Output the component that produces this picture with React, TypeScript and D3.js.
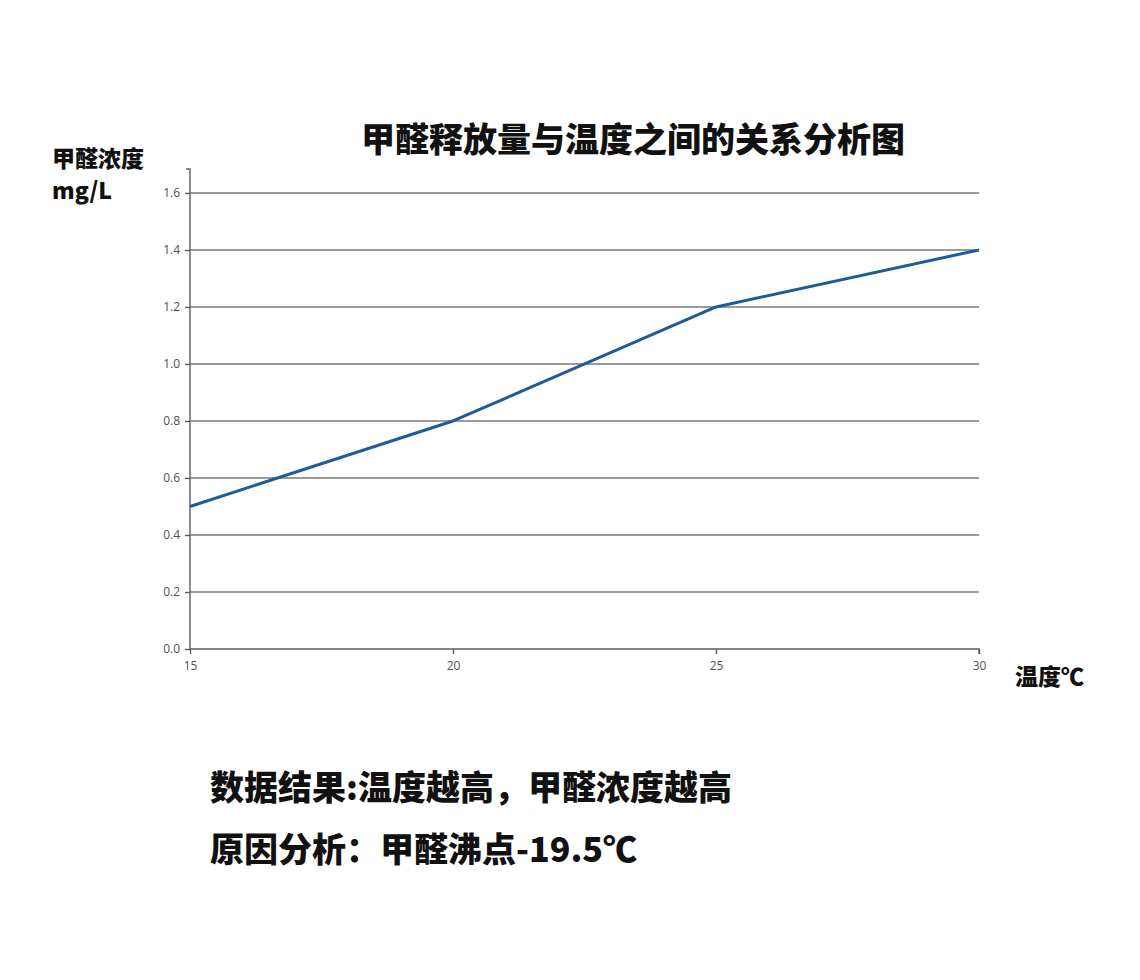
import { useEffect, useRef } from 'react'
import * as d3 from 'd3'

const temps = [15, 20, 25, 30]
const conc = [0.5, 0.8, 1.2, 1.4]
const yTicks = [0, 0.2, 0.4, 0.6, 0.8, 1.0, 1.2, 1.4, 1.6]
const xTicks = [15, 20, 25, 30]

const CJK = '"Noto Sans CJK SC", "Noto Sans", sans-serif'

export default function App() {
  const svgRef = useRef<SVGSVGElement>(null)

  useEffect(() => {
    if (!svgRef.current) return
    const svg = d3.select(svgRef.current)
    svg.selectAll('*').remove()

    const W = 1140, H = 980
    const left = 190, right = 979, top = 169, bottom = 649

    const x = d3.scaleLinear().domain([15, 30]).range([left, right])
    const y = d3.scaleLinear().domain([0, 1.684]).range([bottom, top])

    svg.attr('width', W).attr('height', H)
    svg.append('rect').attr('width', W).attr('height', H).attr('fill', '#fff')

    // grid
    svg.append('g')
      .selectAll('line')
      .data(yTicks.filter(d => d > 0))
      .join('line')
      .attr('x1', left).attr('x2', right)
      .attr('y1', d => y(d)).attr('y2', d => y(d))
      .attr('stroke', '#7a7a7a').attr('stroke-width', 1.4)

    // y axis
    svg.append('g')
      .attr('transform', `translate(${left},0)`)
      .call(d3.axisLeft(y).tickValues(yTicks).tickFormat(d3.format('.1f')).tickSize(5).tickPadding(5))
      .call(sel => {
        sel.select('.domain').attr('stroke', '#5e5e5e').attr('stroke-width', 1.4)
          .attr('d', `M-4,${top}H0V${bottom}`)
        sel.selectAll('.tick line').attr('stroke', '#5e5e5e').attr('stroke-width', 1.4)
        sel.selectAll('text').attr('font-size', 12).attr('fill', '#505050')
          .attr('font-family', '"Open Sans", sans-serif')
      })

    // x axis
    svg.append('g')
      .attr('transform', `translate(0,${bottom})`)
      .call(d3.axisBottom(x).tickValues(xTicks).tickSize(5).tickPadding(7))
      .call(sel => {
        sel.select('.domain').attr('stroke', '#5e5e5e').attr('stroke-width', 1.4)
          .attr('d', `M${left},0H${right}V5`)
        sel.selectAll('.tick line').attr('stroke', '#5e5e5e').attr('stroke-width', 1.4)
        sel.selectAll('text').attr('font-size', 12).attr('fill', '#505050')
          .attr('font-family', '"Open Sans", sans-serif')
      })

    // line
    const line = d3.line<number>()
      .x((_, i) => x(temps[i]))
      .y(d => y(d))
    svg.append('path')
      .datum(conc)
      .attr('d', line)
      .attr('fill', 'none')
      .attr('stroke', '#1f5b9b')
      .attr('stroke-width', 3)
      .attr('stroke-linejoin', 'round')

    // title
    svg.append('text')
      .attr('x', 633).attr('y', 137)
      .attr('text-anchor', 'middle').attr('dominant-baseline', 'central')
      .attr('font-family', CJK).attr('font-weight', 900).attr('font-size', 34)
      .attr('fill', '#111')
      .text('甲醛释放量与温度之间的关系分析图')

    // y axis label
    svg.append('text')
      .attr('x', 52).attr('y', 157)
      .attr('dominant-baseline', 'central')
      .attr('font-family', CJK).attr('font-weight', 900).attr('font-size', 23)
      .attr('fill', '#111')
      .text('甲醛浓度')
    svg.append('text')
      .attr('x', 52).attr('y', 189)
      .attr('dominant-baseline', 'central')
      .attr('font-family', CJK).attr('font-weight', 900).attr('font-size', 23)
      .attr('fill', '#111')
      .text('mg/L')

    // x axis label
    svg.append('text')
      .attr('x', 1015).attr('y', 675)
      .attr('dominant-baseline', 'central')
      .attr('font-family', CJK).attr('font-weight', 900).attr('font-size', 23)
      .attr('fill', '#111')
      .text('温度℃')

    // notes
    svg.append('text')
      .attr('x', 210).attr('y', 785)
      .attr('dominant-baseline', 'central')
      .attr('font-family', CJK).attr('font-weight', 900).attr('font-size', 34)
      .attr('fill', '#111')
      .text('数据结果:温度越高，甲醛浓度越高')
    svg.append('text')
      .attr('x', 210).attr('y', 847)
      .attr('dominant-baseline', 'central')
      .attr('font-family', CJK).attr('font-weight', 900).attr('font-size', 34)
      .attr('fill', '#111')
      .text('原因分析：甲醛沸点-19.5℃')
  }, [])

  return (
    <div style={{ position: 'absolute', left: 0, top: 0 }}>
      <svg ref={svgRef} style={{ display: 'block' }} />
    </div>
  )
}
